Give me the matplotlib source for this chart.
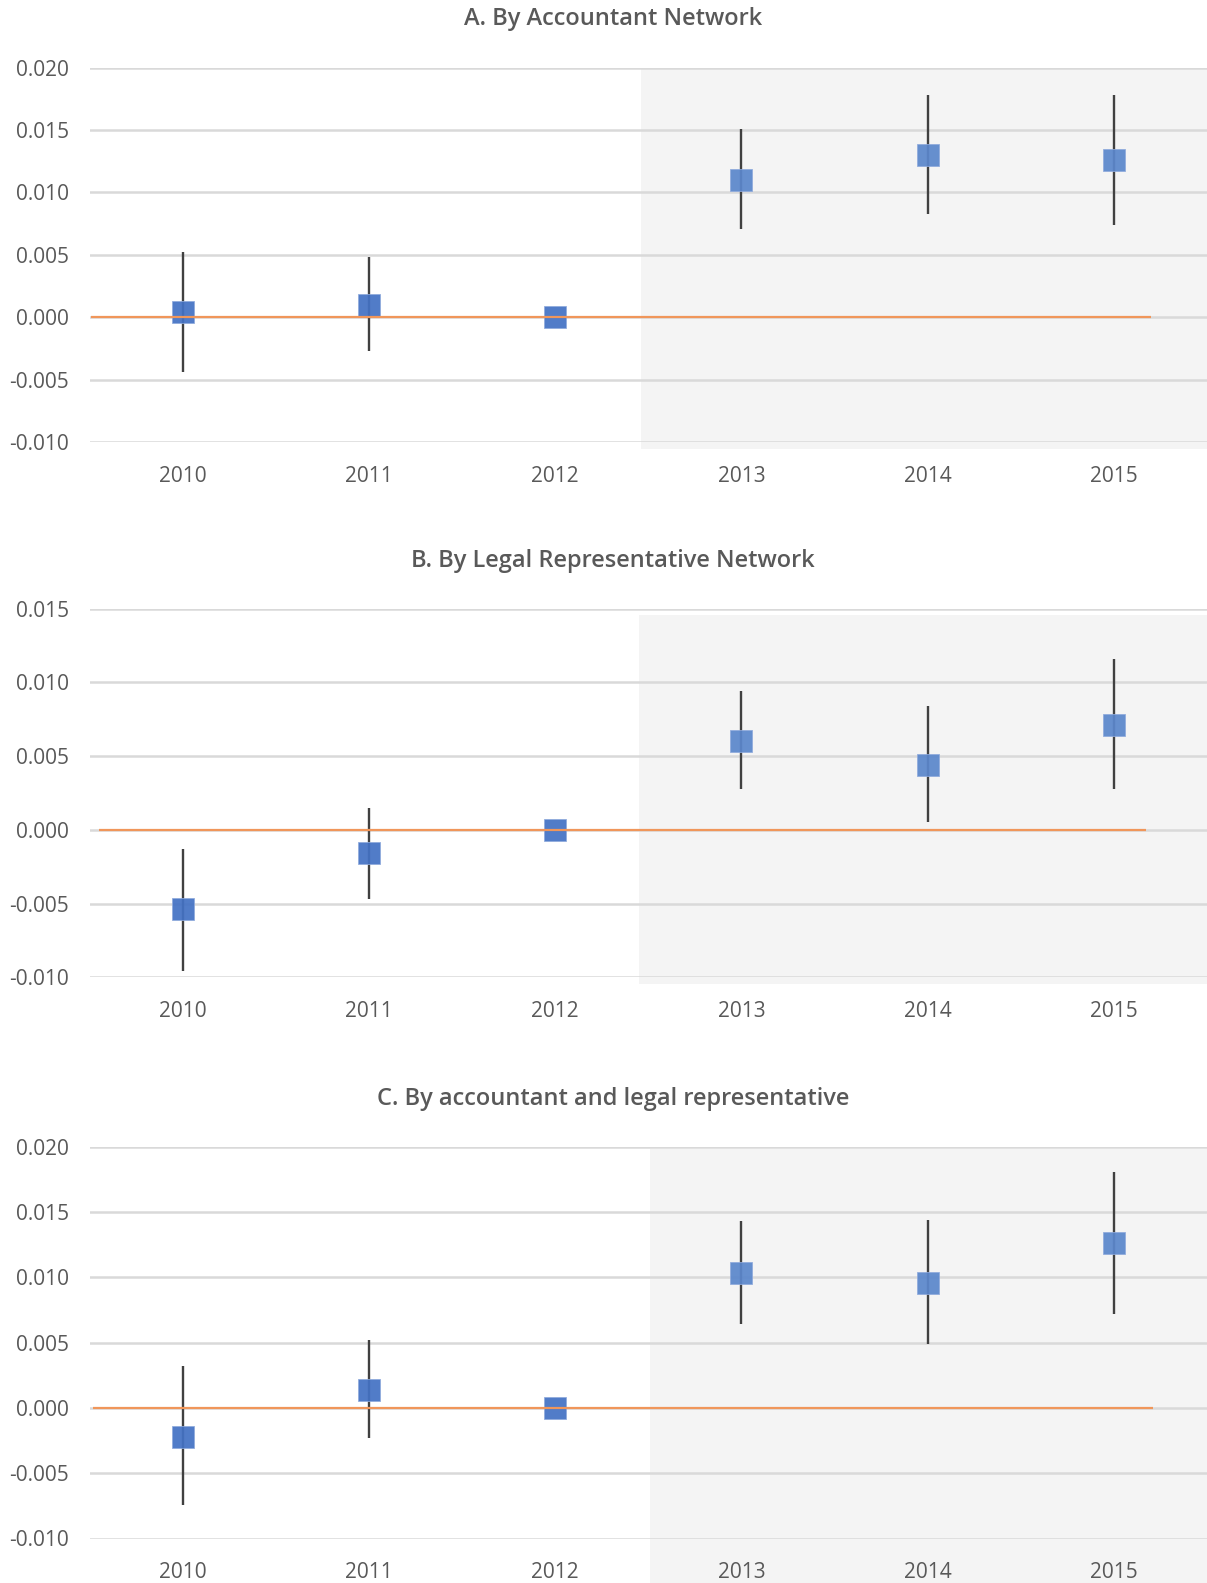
import numpy as np
import matplotlib
matplotlib.use("Agg")
import matplotlib.pyplot as plt
from matplotlib.patches import Rectangle

plt.rcParams['font.family'] = ['Open Sans', 'DejaVu Sans']

years = ['2010', '2011', '2012', '2013', '2014', '2015']

# panel A: by accountant network
coef_a = [0.0004, 0.0010, 0.0000, 0.0110, 0.0130, 0.0126]
low_a = [-0.0044, -0.0027, 0.0000, 0.0071, 0.0083, 0.0074]
high_a = [0.0052, 0.0048, 0.0000, 0.0151, 0.0178, 0.0178]

# panel B: by legal representative network
coef_b = [-0.0054, -0.0016, 0.0000, 0.0060, 0.0044, 0.0071]
low_b = [-0.0096, -0.0047, 0.0000, 0.0028, 0.0005, 0.0028]
high_b = [-0.0013, 0.0015, 0.0000, 0.0094, 0.0084, 0.0116]

# panel C: by accountant and legal representative
coef_c = [-0.0022, 0.0014, 0.0000, 0.0103, 0.0096, 0.0126]
low_c = [-0.0074, -0.0023, 0.0000, 0.0064, 0.0049, 0.0072]
high_c = [0.0032, 0.0052, 0.0000, 0.0143, 0.0144, 0.0181]

titles = ['A. By Accountant Network',
          'B. By Legal Representative Network',
          'C. By accountant and legal representative']

W, H = 1207, 1583
fig = plt.figure(figsize=(W / 100, H / 100), dpi=100)

GRAY_TXT = '#595959'
DARK_BLUE = '#4472C4'
LIGHT_BLUE = '#5B87CC'

# pixel layout of each panel (top/bottom gridline, shading start, zero-line extent, title y)
panels = [
    dict(top=67.6, bottom=442.0, ylim=(-0.010, 0.020), ticks=np.arange(-0.010, 0.0201, 0.005),
         shade_x=2.46, line=(-0.49, 5.20), title_y=19, shade_ext=7),
    dict(top=608.7, bottom=977.2, ylim=(-0.010, 0.015), ticks=np.arange(-0.010, 0.0151, 0.005),
         shade_x=2.45, line=(-0.45, 5.17), title_y=561, shade_ext=7, shade_top=6),
    dict(top=1146.8, bottom=1538.5, ylim=(-0.010, 0.020), ticks=np.arange(-0.010, 0.0201, 0.005),
         shade_x=2.51, line=(-0.48, 5.21), title_y=1099, shade_ext=60, shade_top=2),
]
data = [(coef_a, low_a, high_a), (coef_b, low_b, high_b), (coef_c, low_c, high_c)]

x = np.arange(len(years))
left_px = 89.5

for p, (coef, low, high), title in zip(panels, data, titles):
    ax = fig.add_axes([left_px / W, 1 - p['bottom'] / H,
                       1 - left_px / W, (p['bottom'] - p['top']) / H])
    ax.set_xlim(-0.5, 5.5)
    ax.set_ylim(*p['ylim'])
    for s in ax.spines.values():
        s.set_visible(False)

    # shaded post-period
    span = p['ylim'][1] - p['ylim'][0]
    px_per_unit = (p['bottom'] - p['top']) / span
    ext = p['shade_ext'] / px_per_unit
    top_off = p.get('shade_top', 0) / px_per_unit
    ax.add_patch(Rectangle((p['shade_x'], p['ylim'][0] - ext), 6 - p['shade_x'],
                           span + ext - top_off, facecolor='#F4F4F4', edgecolor='none',
                           zorder=0, clip_on=False))

    for t in p['ticks']:
        ax.axhline(t, color='#D9D9D9', lw=1.8, zorder=1)

    coef = np.array(coef)
    low = np.array(low)
    high = np.array(high)
    has_ci = high > low
    ax.vlines(x[has_ci], low[has_ci], high[has_ci], color='#404040', lw=1.7, zorder=2)

    colors = [DARK_BLUE] * 3 + [LIGHT_BLUE] * 3
    for xi, yi, c in zip(x, coef, colors):
        ax.plot(xi, yi, marker='s', ms=15.5, color=c, mec='#8FAADC', mew=0.6,
                alpha=0.93, zorder=3, linestyle='none')

    ax.hlines(0, p['line'][0], p['line'][1], color='#F0965A', lw=1.6, zorder=4)

    ax.set_yticks(p['ticks'])
    ax.set_yticklabels([f'{t:.3f}' for t in p['ticks']])
    ax.set_xticks(x)
    ax.set_xticklabels(years)
    ax.tick_params(axis='both', length=0, labelsize=15, labelcolor=GRAY_TXT)
    ax.tick_params(axis='y', pad=15)
    ax.tick_params(axis='x', pad=17)

    fig.text(613 / W, 1 - p['title_y'] / H, title, ha='center', va='center',
             fontsize=17, fontweight='semibold', color=GRAY_TXT)

fig.savefig('out.png', dpi=100)
